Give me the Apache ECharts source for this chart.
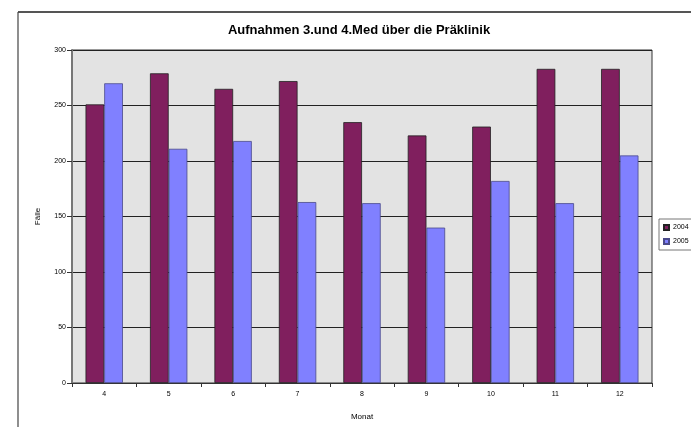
<!DOCTYPE html>
<html>
<head>
<meta charset="utf-8">
<script src="https://cdn.jsdelivr.net/npm/echarts@6/dist/echarts.min.js"></script>
<style>
html,body{margin:0;padding:0;background:#fff;}
#c{width:691px;height:427px;}
</style>
</head>
<body>
<div id="c"></div>
<script>
const months = ['4','5','6','7','8','9','10','11','12'];
const values2004 = [251,279,265,272,235,223,231,283,283];
const values2005 = [270,211,218,163,162,140,182,162,205];
const yTicks = {min:0, max:300, interval:50};

const chart = echarts.init(document.getElementById('c'), null, {renderer:'canvas'});
chart.setOption({
  animation:false,
  backgroundColor:'#ffffff',
  title:{
    text:'Aufnahmen 3.und 4.Med über die Präklinik',
    left:354, top:19, textAlign:'center',
    textStyle:{fontFamily:'Liberation Sans, Arial', fontSize:13, fontWeight:'bold', color:'#000'}
  },
  legend:{
    orient:'vertical',
    left:659, top:219,
    itemWidth:5, itemHeight:5, itemGap:7,
    padding:[5,5,5,4],
    borderColor:'#777', borderWidth:1,
    icon:'rect',
    textStyle:{fontFamily:'Liberation Sans, Arial', fontSize:7, color:'#000', padding:[0,0,0,-1]},
    data:['2004','2005']
  },
  graphic:[
    {type:'line', shape:{x1:18, y1:12, x2:691, y2:12}, style:{stroke:'#555', lineWidth:2}},
    {type:'line', shape:{x1:18, y1:12, x2:18, y2:427}, style:{stroke:'#444', lineWidth:1.2}}
  ],
  grid:{left:72, top:50, width:580, height:333, backgroundColor:'#e3e3e3', show:true, borderColor:'#333', borderWidth:1},
  xAxis:{
    type:'category', data:months,
    name:'Monat', nameLocation:'middle', nameGap:30,
    nameTextStyle:{fontFamily:'Liberation Sans, Arial', fontSize:8, color:'#000'},
    axisLine:{lineStyle:{color:'#333', width:1}},
    axisTick:{show:true, alignWithLabel:false, length:4, lineStyle:{color:'#333'}},
    axisLabel:{fontFamily:'Liberation Sans, Arial', fontSize:7, color:'#000', margin:8}
  },
  yAxis:{
    type:'value', min:yTicks.min, max:yTicks.max, interval:yTicks.interval,
    name:'Fälle', nameLocation:'middle', nameGap:30,
    nameTextStyle:{fontFamily:'Liberation Sans, Arial', fontSize:8, color:'#000'},
    axisLine:{show:true, lineStyle:{color:'#777', width:2}},
    axisTick:{show:true, length:5, inside:false, lineStyle:{color:'#333'}},
    axisLabel:{fontFamily:'Liberation Sans, Arial', fontSize:7, color:'#000', margin:6},
    splitLine:{show:true, lineStyle:{color:'#222', width:1}}
  },
  series:[
    {name:'2004', type:'bar', data:values2004, barGap:'0%', barCategoryGap:'42%',
     itemStyle:{color:'#801f5e', borderColor:'#222', borderWidth:0.8}},
    {name:'2005', type:'bar', data:values2005, barGap:'0%', barCategoryGap:'42%',
     itemStyle:{color:'#8080ff', borderColor:'#4a4a8a', borderWidth:0.8}}
  ]
});
</script>
</body>
</html>
